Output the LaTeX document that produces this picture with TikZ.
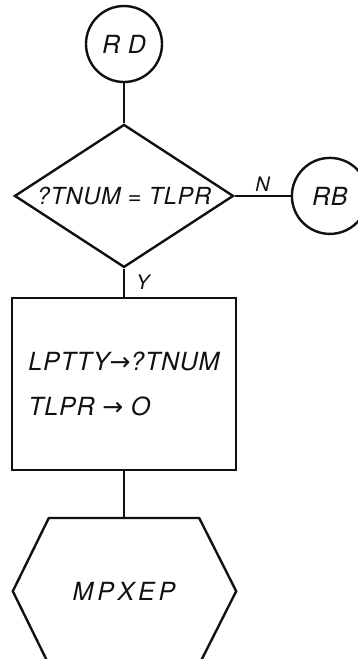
\documentclass[tikz,border=0pt]{standalone}
\usepackage{fontspec}
\setsansfont[LetterSpace=3]{TeX Gyre Heros}
\newfontfamily\arrowfont{DejaVu Sans}
\usetikzlibrary{
  positioning,
  shapes.geometric
}
\definecolor{ink}{HTML}{111111}

\begin{document}
\begin{tikzpicture}[
  x=1pt, y=1pt,
  font=\sffamily\itshape\fontsize{25}{45}\selectfont,
  text=ink,
  connector/.style={
    draw=ink,
    line width=1.8pt
  },
  terminal/.style={
    circle,
    draw=ink,
    line width=2.4pt,
    minimum size=76pt,
    inner sep=0pt
  },
  decision/.style={
    diamond,
    draw=ink,
    line width=2.4pt,
    minimum width=219pt,
    minimum height=143pt,
    inner sep=0pt,
    font=\sffamily\itshape\fontsize{23.5}{27}\selectfont
  },
  process/.style={
    rectangle,
    draw=ink,
    line width=2.4pt,
    minimum width=224pt,
    minimum height=172pt,
    align=left
  },
  exitbox/.style={
    rectangle,
    minimum width=150pt,
    minimum height=146pt,
    inner sep=0pt
  },
  branch/.style={
    font=\sffamily\itshape\fontsize{20}{22}\selectfont
  }
]
\useasboundingbox (0,0) rectangle (357,-659);

% Flow chart
\node[terminal] (rd) at (124,-44) {R D};
\node[decision, below=40pt of rd] (test) {\makebox[0pt]{?TNUM = TLPR}};
\node[terminal, right=56pt of test] (rb) {RB};
\node[process, below=28pt of test] (assign)
  {LPTTY{\arrowfont\upshape→}?TNUM\\TLPR {\arrowfont\upshape→} O};
\node[exitbox, below=47pt of assign] (mpxep) {\addfontfeature{LetterSpace=15}MPXEP};

% Hexagon outline around the exit node
\draw[draw=ink, line width=2.4pt, line join=round]
  (mpxep.north west) -- (mpxep.north east) -- ([xshift=37pt]mpxep.east)
  -- (mpxep.south east) -- (mpxep.south west) -- ([xshift=-36pt]mpxep.west) -- cycle;

% Connectors
\draw[connector] (rd) -- (test);
\draw[connector] (test.east) -- node[branch, above] {N} (rb);
\draw[connector] (test.south) -- node[branch, right=8pt] {Y} (assign.north);
\draw[connector] (assign) -- (mpxep);

\end{tikzpicture}
\end{document}
